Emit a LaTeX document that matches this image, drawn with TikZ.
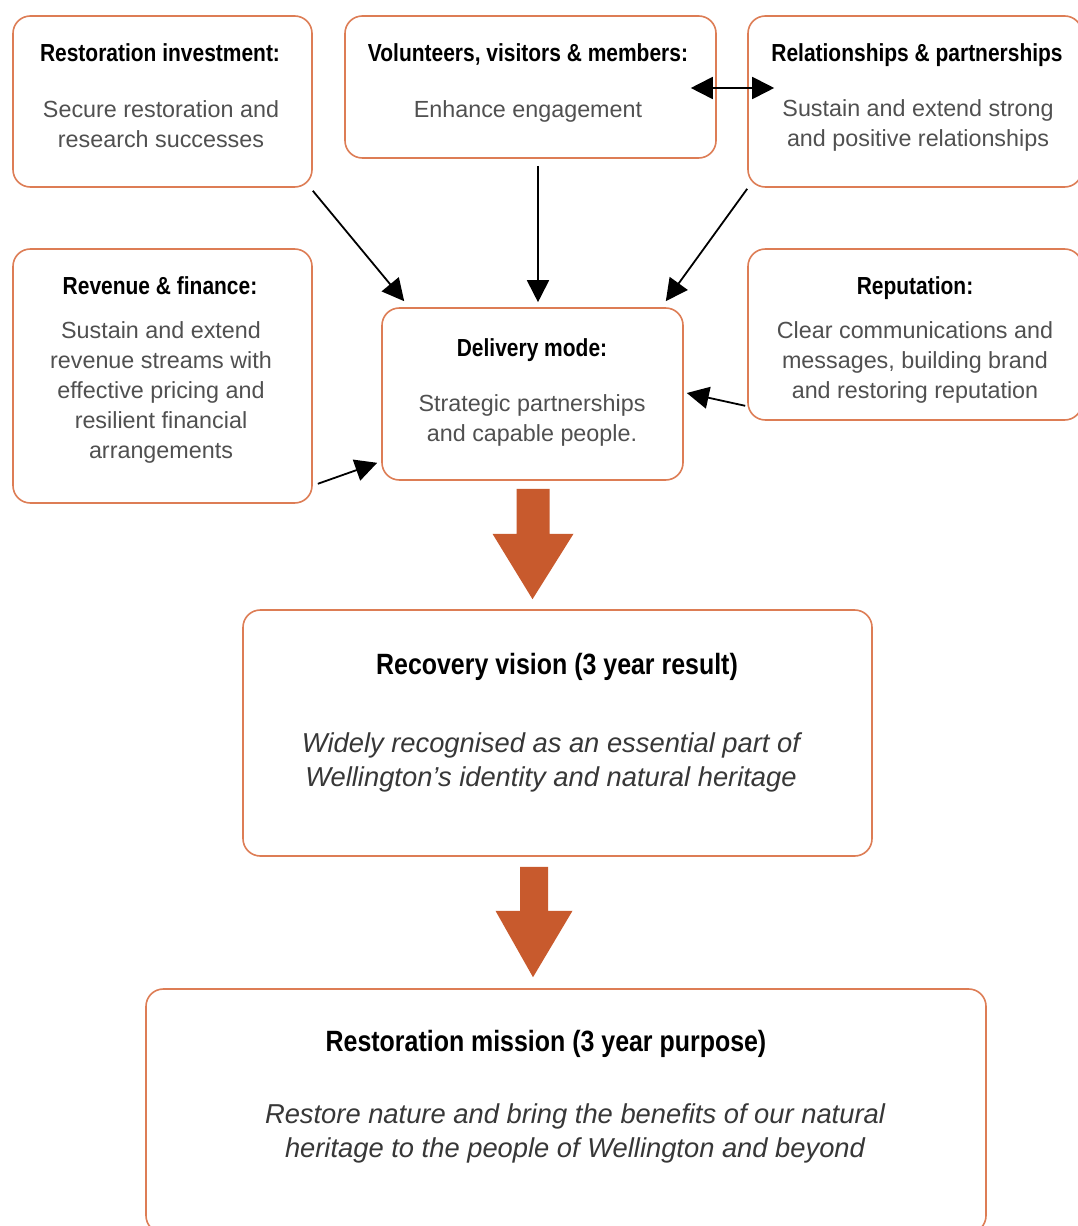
\documentclass[tikz,border=0pt]{standalone}
\usepackage{fontspec}
\setmainfont{Liberation Sans}
\newfontfamily\ttlfont[FakeStretch=0.85]{Liberation Sans}
\usetikzlibrary{arrows.meta,calc}
\definecolor{boxc}{RGB}{221,125,85}
\definecolor{bigc}{RGB}{200,90,45}
\definecolor{bodyc}{RGB}{80,80,80}
\definecolor{italc}{RGB}{55,55,55}
\begin{document}
\begin{tikzpicture}[x=0.75pt,y=-0.75pt,
  box/.style={draw=boxc,line width=1.2pt,rounded corners=13pt,fill=white,inner sep=0pt},
  ttl/.style={font=\ttlfont\bfseries\fontsize{18.5}{22}\selectfont,text=black,inner sep=0pt,anchor=base},
  bod/.style={font=\fontsize{17.5}{22.5}\selectfont,text=bodyc,align=center,inner sep=0pt},
  bigttl/.style={font=\ttlfont\bfseries\fontsize{22}{26}\selectfont,text=black,inner sep=0pt,anchor=base},
  ital/.style={font=\itshape\fontsize{20.5}{25.5}\selectfont,text=italc,align=center,inner sep=0pt},
  arr/.style={line width=1.35pt,-{Triangle[length=16.5pt,width=16.5pt]}},
  darr/.style={line width=1.35pt,{Triangle[length=16.5pt,width=16.5pt]}-{Triangle[length=16.5pt,width=16.5pt]}},
  bigarrow/.style={fill=bigc}]
\useasboundingbox[fill=white] (0,0) rectangle (1077,1226);

% boxes
\node[box,minimum width=224.25pt,minimum height=128.25pt] (ri) at (162.5,101.5) {};
\node[box,minimum width=278.25pt,minimum height=106.5pt] (vol) at (530.5,87) {};
\node[box,minimum width=250.5pt,minimum height=128.25pt] (rel) at (915,101.5) {};
\node[box,minimum width=224.25pt,minimum height=190.5pt] (rev) at (162.5,376) {};
\node[box,minimum width=225.75pt,minimum height=129pt] (del) at (532.5,394) {};
\node[box,minimum width=250.5pt,minimum height=128.25pt] (rep) at (915,334.5) {};
\node[box,minimum width=471.75pt,minimum height=184.5pt] (vis) at (557.5,733) {};
\node[box,minimum width=630pt,minimum height=183pt] (mis) at (566,1111) {};

% texts
\node[ttl] (riT) at (160,62) {Restoration investment:};
\node[bod] (riB) at (161,124) {Secure restoration and\\research successes};
\node[ttl] (volT) at (528,62) {Volunteers, visitors \& members:};
\node[bod] (volB) at (528,111) {Enhance engagement};
\node[ttl] (relT) at (917,62) {Relationships \& partnerships};
\node[bod] (relB) at (918,125) {Sustain and extend strong\\and positive relationships};
\node[ttl] (revT) at (160,295) {Revenue \& finance:};
\node[bod] (revB) at (161,392) {Sustain and extend\\revenue streams with\\effective pricing and\\resilient financial\\arrangements};
\node[ttl] (delT) at (532,357) {Delivery mode:};
\node[bod] (delB) at (532,420) {Strategic partnerships\\and capable people.};
\node[ttl] (repT) at (915,295) {Reputation:};
\node[bod] (repB) at (915,362) {Clear communications and\\messages, building brand\\and restoring reputation};
\node[bigttl] (visT) at (557,674) {Recovery vision (3 year result)};
\node[ital] (visB) at (551,762) {Widely recognised as an essential part of\\Wellington’s identity and natural heritage};
\node[bigttl] (misT) at (546,1051) {Restoration mission (3 year purpose)};
\node[ital] (misB) at (575,1133) {Restore nature and bring the benefits of our natural\\heritage to the people of Wellington and beyond};

% thin connectors
\draw[darr] ($(vol.east)+(-26,1)$) -- ($(rel.west)+(27,-13.5)$);
\draw[arr] ($(ri.south east)+(0,3)$) -- ($(del.north west)+(23,-6)$);
\draw[arr] ($(vol.south)+(7.5,7)$) -- ($(del.north)+(5.5,-5)$);
\draw[arr] ($(rel.south west)+(0,1)$) -- ($(del.north east)+(-18,-6)$);
\draw[arr] ($(rep.south west)+(-2,-15)$) -- ($(del.east)+(3,-1)$);
\draw[arr] ($(rev.south east)+(5,-20)$) -- ($(del.south west)+(-4,-18)$);

% big arrows
\coordinate (a1s) at ($(del.south)+(0.5,8)$);
\coordinate (a1t) at ($(vis.north)+(-25,-10)$);
\fill[bigarrow] ($(a1s)+(-16.5,0)$) -- ($(a1s)+(16.5,0)$) -- ($(a1s)+(16.5,45)$) -- ($(a1s)+(40.5,45)$)
  -- (a1t) -- ($(a1s)+(-40.5,45)$) -- ($(a1s)+(-16.5,45)$) -- cycle;
\coordinate (a2s) at ($(vis.south)+(-23.5,10)$);
\coordinate (a2t) at ($(mis.north)+(-33,-11)$);
\fill[bigarrow] ($(a2s)+(-14,0)$) -- ($(a2s)+(14,0)$) -- ($(a2s)+(14,44)$) -- ($(a2s)+(38.5,44)$)
  -- (a2t) -- ($(a2s)+(-38.5,44)$) -- ($(a2s)+(-14,44)$) -- cycle;
\end{tikzpicture}
\end{document}
